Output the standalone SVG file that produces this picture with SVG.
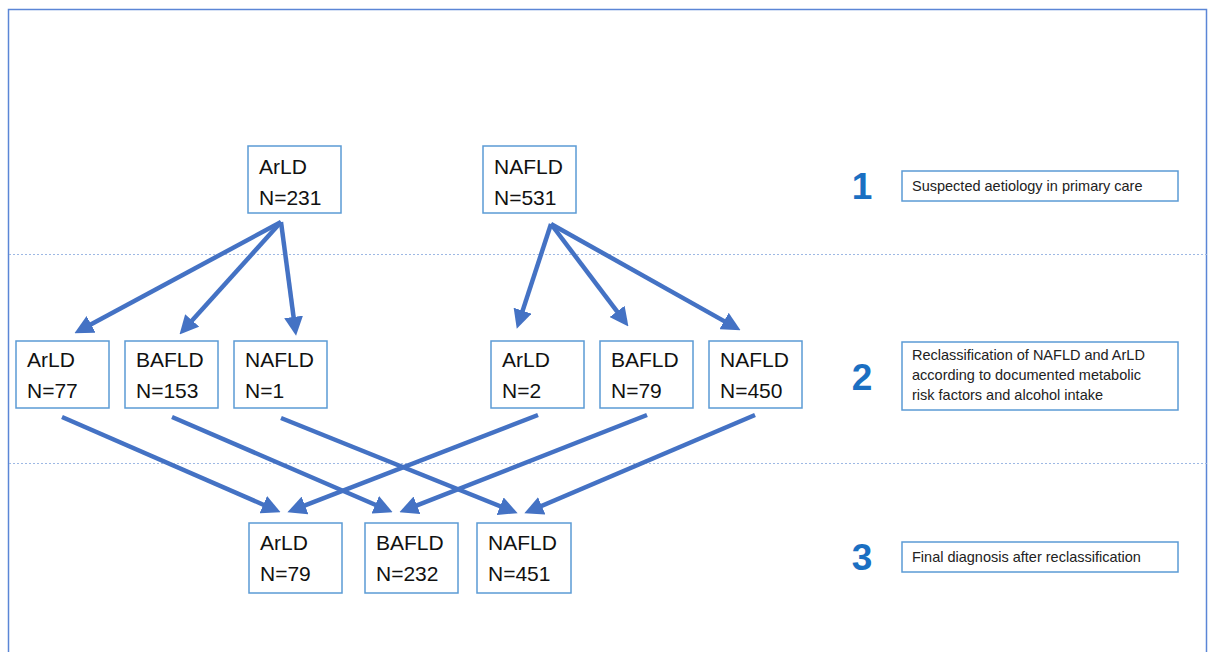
<svg xmlns="http://www.w3.org/2000/svg" width="1208" height="652" viewBox="0 0 1208 652">
  <style>
    .frame { fill: none; stroke: #5B86D6; stroke-width: 1.5; }
    .divider { stroke: #9DB8E4; stroke-width: 1; stroke-dasharray: 2 2; }
    .box { fill: #ffffff; stroke: #5B9BD5; stroke-width: 1.5; }
    .lbl { font-family: "Liberation Sans", Arial, sans-serif; font-size: 21px; fill: #111111; }
    .note { font-family: "Liberation Sans", Arial, sans-serif; font-size: 14.5px; fill: #222222; }
    .step { font-family: "Liberation Sans", Arial, sans-serif; font-size: 37px; font-weight: bold; fill: #1B6FC2; text-anchor: middle; }
    .arrow { fill: none; stroke: #4472C4; stroke-width: 4.5; marker-end: url(#head); }
  </style>
  <defs>
    <marker id="head" viewBox="0 0 10 10" refX="3.3" refY="5" markerWidth="4.2" markerHeight="4.2" orient="auto">
      <path d="M0,0 L10,5 L0,10 z" fill="#4472C4"/>
    </marker>
  </defs>

  <rect width="1208" height="652" fill="#ffffff"/>
  <rect class="frame" x="8.5" y="9.5" width="1198" height="670"/>
  <line class="divider" x1="9" y1="254.5" x2="1207" y2="254.5"/>
  <line class="divider" x1="9" y1="463.5" x2="1207" y2="463.5"/>

  <g id="connectors">
    <path class="arrow" d="M281,222 L85.6,327.3"/>
    <path class="arrow" d="M281,222 L188,325.1"/>
    <path class="arrow" d="M281,222 L294.4,323.1"/>
    <path class="arrow" d="M551,224 L520.7,316.6"/>
    <path class="arrow" d="M551,224 L620.8,316.4"/>
    <path class="arrow" d="M551,224 L729.5,324.1"/>
    <path class="arrow" d="M62,417 L269,507.2"/>
    <path class="arrow" d="M172,417 L381,507.2"/>
    <path class="arrow" d="M281,418 L505.9,508.5"/>
    <path class="arrow" d="M538,415 L299.2,507.7"/>
    <path class="arrow" d="M647,415 L411.2,507.6"/>
    <path class="arrow" d="M755,415 L536,508.3"/>
  </g>

  <!-- level 1 -->
  <g id="l1-arld">
    <rect class="box" x="248" y="146" width="93" height="67"/>
    <text class="lbl" x="259" y="174">ArLD</text>
    <text class="lbl" x="259" y="205">N=231</text>
  </g>
  <g id="l1-nafld">
    <rect class="box" x="483" y="146" width="93" height="67"/>
    <text class="lbl" x="494" y="174">NAFLD</text>
    <text class="lbl" x="494" y="205">N=531</text>
  </g>

  <!-- level 2 -->
  <g id="l2-arld-a">
    <rect class="box" x="16" y="341" width="93" height="67"/>
    <text class="lbl" x="27" y="367">ArLD</text>
    <text class="lbl" x="27" y="398">N=77</text>
  </g>
  <g id="l2-bafld-a">
    <rect class="box" x="125" y="341" width="93" height="67"/>
    <text class="lbl" x="136" y="367">BAFLD</text>
    <text class="lbl" x="136" y="398">N=153</text>
  </g>
  <g id="l2-nafld-a">
    <rect class="box" x="234" y="341" width="93" height="67"/>
    <text class="lbl" x="245" y="367">NAFLD</text>
    <text class="lbl" x="245" y="398">N=1</text>
  </g>
  <g id="l2-arld-b">
    <rect class="box" x="491" y="341" width="93" height="67"/>
    <text class="lbl" x="502" y="367">ArLD</text>
    <text class="lbl" x="502" y="398">N=2</text>
  </g>
  <g id="l2-bafld-b">
    <rect class="box" x="600" y="341" width="93" height="67"/>
    <text class="lbl" x="611" y="367">BAFLD</text>
    <text class="lbl" x="611" y="398">N=79</text>
  </g>
  <g id="l2-nafld-b">
    <rect class="box" x="709" y="341" width="93" height="67"/>
    <text class="lbl" x="720" y="367">NAFLD</text>
    <text class="lbl" x="720" y="398">N=450</text>
  </g>

  <!-- level 3 -->
  <g id="l3-arld">
    <rect class="box" x="249" y="523" width="93" height="70"/>
    <text class="lbl" x="260" y="550">ArLD</text>
    <text class="lbl" x="260" y="581">N=79</text>
  </g>
  <g id="l3-bafld">
    <rect class="box" x="365" y="523" width="93" height="70"/>
    <text class="lbl" x="376" y="550">BAFLD</text>
    <text class="lbl" x="376" y="581">N=232</text>
  </g>
  <g id="l3-nafld">
    <rect class="box" x="477" y="523" width="94" height="70"/>
    <text class="lbl" x="488" y="550">NAFLD</text>
    <text class="lbl" x="488" y="581">N=451</text>
  </g>

  <!-- step legend -->
  <g id="step-1">
    <text class="step" x="862" y="199">1</text>
    <rect class="box" x="902" y="171" width="276" height="30"/>
    <text class="note" x="912" y="191">Suspected aetiology in primary care</text>
  </g>
  <g id="step-2">
    <text class="step" x="862" y="390">2</text>
    <rect class="box" x="902" y="342" width="276" height="68"/>
    <text class="note" x="912" y="360">Reclassification of NAFLD and ArLD</text>
    <text class="note" x="912" y="380">according to documented metabolic</text>
    <text class="note" x="912" y="400">risk factors and alcohol intake</text>
  </g>
  <g id="step-3">
    <text class="step" x="862" y="570">3</text>
    <rect class="box" x="902" y="542" width="276" height="30"/>
    <text class="note" x="912" y="562">Final diagnosis after reclassification</text>
  </g>
</svg>
